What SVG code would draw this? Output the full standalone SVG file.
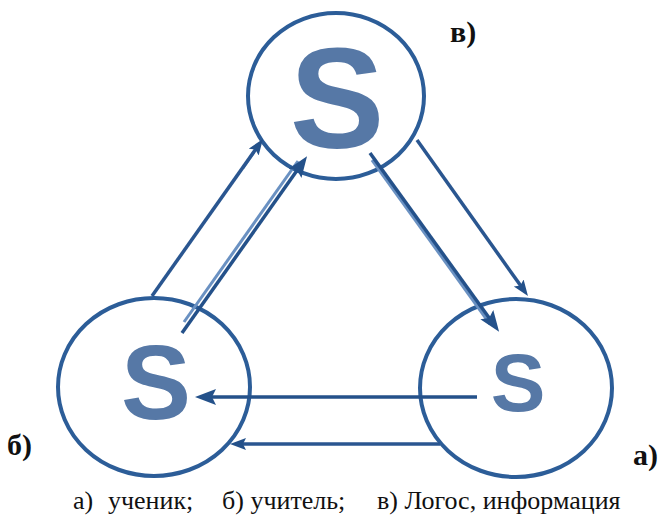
<svg xmlns="http://www.w3.org/2000/svg" width="660" height="520" viewBox="0 0 660 520">
<style>
.node ellipse{fill:none;stroke:#2c5d98;stroke-width:4}
.big{font-family:"Liberation Sans",Arial,sans-serif;font-weight:bold;fill:#5678a6;text-anchor:middle}
.lbl{font-family:"Liberation Serif","Times New Roman",serif;font-weight:bold;font-size:30px;fill:#111}
.cap{font-family:"Liberation Serif","Times New Roman",serif;font-size:26px;fill:#111}
.ln{stroke:#2a5690;stroke-width:3.5;fill:none}
.lnT{stroke:#24518a;stroke-width:3.5;fill:none}
.sh{stroke:#6a91c2;stroke-width:3;fill:none}
</style>
<defs>
<marker id="ah" markerUnits="userSpaceOnUse" markerWidth="18" markerHeight="14" refX="10" refY="6" orient="auto">
<path d="M0,0 L16,6 L0,12 L3,6 z" fill="#24518a"/>
</marker>
<marker id="ahB" markerUnits="userSpaceOnUse" markerWidth="24" markerHeight="18" refX="14" refY="8" orient="auto">
<path d="M0,0 L21,8 L0,16 L4,8 z" fill="#24518a"/>
</marker>
</defs>
<g id="node-v" class="node">
<ellipse cx="336" cy="96" rx="88" ry="83"/>
<text class="big" x="337" y="148" font-size="142">S</text>
</g>
<g id="node-b" class="node">
<ellipse cx="154" cy="387" rx="96" ry="89"/>
<text class="big" x="156" y="419" font-size="105">S</text>
</g>
<g id="node-a" class="node">
<ellipse cx="516" cy="388" rx="96" ry="89"/>
<text class="big" x="518" y="411" font-size="82">S</text>
</g>
<g id="connectors">
<line class="sh" x1="243" y1="168" x2="254" y2="152" stroke-width="2"/>
<line class="ln" x1="152" y1="296" x2="259.5" y2="143.9" marker-end="url(#ah)"/>
<line class="sh" x1="184" y1="322" x2="298" y2="161"/>
<line class="lnT" x1="182" y1="333" x2="303" y2="162" marker-end="url(#ahB)"/>
<line class="sh" x1="372" y1="160" x2="490" y2="324"/>
<line class="lnT" x1="370" y1="153" x2="495" y2="326" marker-end="url(#ahB)"/>
<line class="ln" x1="417" y1="140" x2="524.5" y2="291.1" marker-end="url(#ah)"/>
<line class="lnT" x1="477" y1="397" x2="202" y2="397" marker-end="url(#ahB)"/>
<line class="ln" x1="440" y1="444" x2="236" y2="444" marker-end="url(#ah)"/>
</g>
<text class="lbl" x="450" y="42">в)</text>
<text class="lbl" x="7" y="455">б)</text>
<text class="lbl" x="633" y="465">а)</text>
<text class="cap" y="509"><tspan x="73">а)</tspan><tspan x="108">ученик;</tspan><tspan x="222">б) учитель;</tspan><tspan x="377">в) Логос, информация</tspan></text>
</svg>
